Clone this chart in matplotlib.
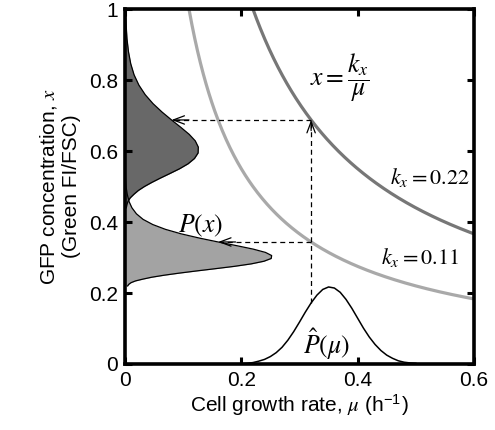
import numpy as np
import matplotlib
matplotlib.use("Agg")
import matplotlib.pyplot as plt

plt.rcParams['font.family'] = ['Liberation Sans', 'DejaVu Sans']
plt.rcParams['mathtext.fontset'] = 'stix'

# growth-rate distribution P^(mu)
mu_pts = [0.20, 0.21, 0.22, 0.23, 0.24, 0.25, 0.26, 0.27, 0.28, 0.29, 0.30,
          0.31, 0.32, 0.33, 0.34, 0.35, 0.36, 0.37, 0.38, 0.39, 0.40, 0.41,
          0.42, 0.43, 0.44, 0.45, 0.46, 0.47, 0.48, 0.49, 0.50]
p_mu = [0.001, 0.002, 0.004, 0.008, 0.013, 0.021, 0.032, 0.047, 0.067, 0.091,
        0.118, 0.146, 0.172, 0.194, 0.210, 0.217, 0.214, 0.202, 0.182, 0.157,
        0.129, 0.101, 0.076, 0.055, 0.038, 0.025, 0.016, 0.009, 0.005, 0.003,
        0.002]

# the two production constants
k_dark = 0.22
k_light = 0.11
mu_sel = 0.32      # growth rate followed by the dashed lines

dark_line = '#777777'
light_line = '#a9a9a9'
dark_fill = '#686868'
light_fill = '#a3a3a3'

mu = np.array(mu_pts)
pm = np.array(p_mu)

fig = plt.figure(figsize=(4.95, 4.30), dpi=100)
ax = fig.add_axes([0.2525, 0.1535, 0.705, 0.8255])

# x = k / mu curves
for k, c in [(k_dark, dark_line), (k_light, light_line)]:
    m = np.linspace(k, 0.6, 300)
    ax.plot(m, k / m, color=c, lw=2.3, zorder=2)

# P(x): map P^(mu) through x = k/mu
for k, c in [(k_light, light_fill), (k_dark, dark_fill)]:
    xs = k / mu
    px = pm * k / xs**2
    ax.fill_betweenx(xs, 0, px, color=c, lw=0, zorder=1)
    ax.plot(px, xs, color='black', lw=0.9, zorder=3)

# P^(mu)
ax.plot(mu, pm, color='black', lw=1.1, zorder=3)

# dashed construction lines
p_sel = p_mu[mu_pts.index(mu_sel)]
y_dark = k_dark / mu_sel
y_light = k_light / mu_sel
tip_dark = p_sel * k_dark / y_dark**2
tip_light = p_sel * k_light / y_light**2
dash = dict(color='black', lw=0.9, ls=(0, (4, 3)), zorder=4)
ax.plot([mu_sel, mu_sel], [p_sel, y_dark - 0.005], **dash)
ax.plot([mu_sel, tip_dark + 0.005], [y_dark, y_dark], **dash)
ax.plot([mu_sel, tip_light + 0.005], [y_light, y_light], **dash)

head = dict(arrowstyle='->,head_length=0.8,head_width=0.3', color='black',
            lw=0.9, shrinkA=0, shrinkB=0)
ax.annotate('', xy=(mu_sel, y_dark), xytext=(mu_sel, y_dark - 0.03), arrowprops=head)
ax.annotate('', xy=(tip_dark, y_dark), xytext=(tip_dark + 0.03, y_dark), arrowprops=head)
ax.annotate('', xy=(tip_light, y_light), xytext=(tip_light + 0.03, y_light), arrowprops=head)

# labels in the plot
ax.text(0.37, 0.806, r'$x=\dfrac{k_x}{\mu}$', fontsize=18.5, ha='center', va='center')
ax.text(0.525, 0.524, r'$k_x=0.22$', fontsize=16, ha='center', va='center')
ax.text(0.508, 0.30, r'$k_x=0.11$', fontsize=16, ha='center', va='center')
ax.text(0.13, 0.39, r'$P(x)$', fontsize=18.5, ha='center', va='center')
ax.text(0.347, 0.055, r'$\hat{P}(\mu)$', fontsize=18.5, ha='center', va='center')

ax.set_xlim(0, 0.6)
ax.set_ylim(0, 1)
ax.set_xticks([0, 0.2, 0.4, 0.6])
ax.set_xticklabels(['0', '0.2', '0.4', '0.6'])
ax.set_yticks([0, 0.2, 0.4, 0.6, 0.8, 1])
ax.set_yticklabels(['0', '0.2', '0.4', '0.6', '0.8', '1'])
ax.tick_params(direction='in', length=5, width=2.2, labelsize=15,
               top=True, right=True, pad=5)
for s in ax.spines.values():
    s.set_linewidth(2.6)

ax.set_xlabel(r'Cell growth rate, $\mu$ (h$^{\mathregular{-1}}$)', fontsize=15, labelpad=2)
ax.set_ylabel('GFP concentration, $x$\n(Green FI/FSC)', fontsize=15, labelpad=6)

fig.savefig('out.png', dpi=100)
